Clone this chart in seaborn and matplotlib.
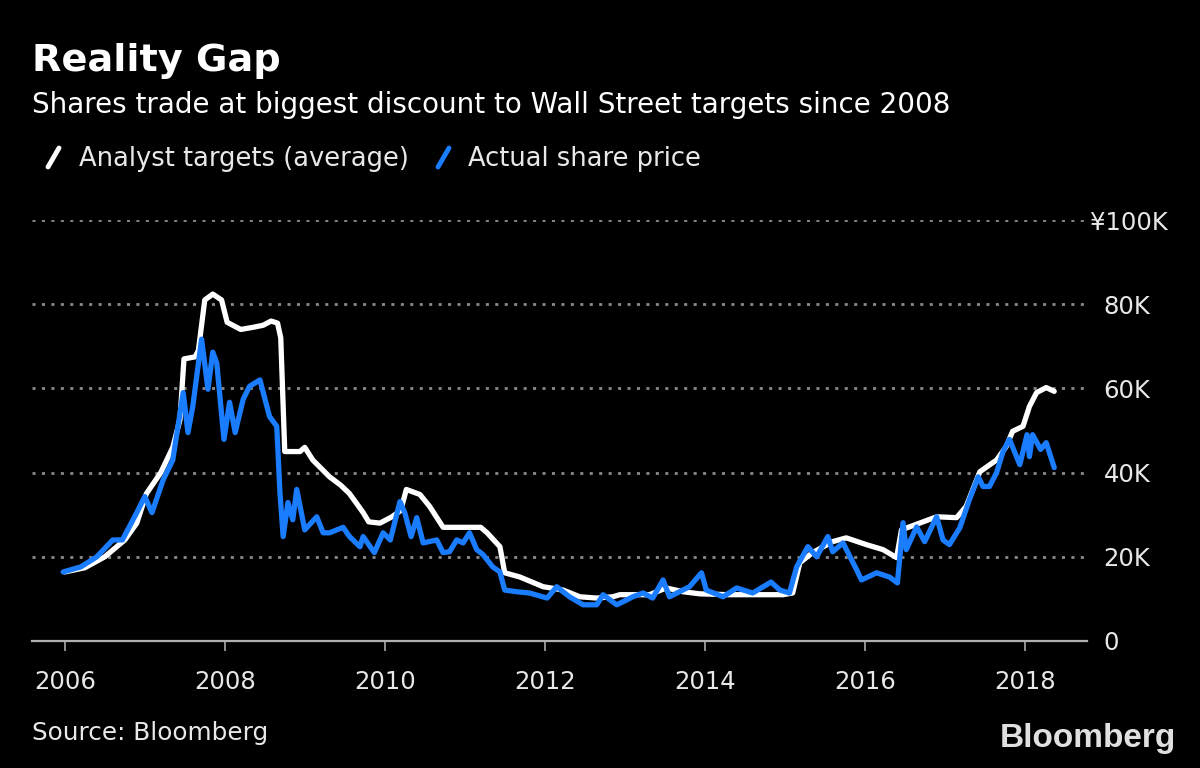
import numpy as np
import pandas as pd
import matplotlib
matplotlib.use("Agg")
import matplotlib.pyplot as plt
import seaborn as sns
from matplotlib.lines import Line2D
from matplotlib.transforms import ScaledTranslation

# analyst price targets (average), thousand yen
analyst_t = [2006.0, 2006.25, 2006.5, 2006.75, 2006.9, 2007.02, 2007.2, 2007.35, 2007.44, 2007.49,
             2007.63, 2007.67, 2007.75, 2007.85, 2007.96, 2008.03, 2008.2, 2008.35, 2008.48, 2008.58,
             2008.66, 2008.70, 2008.75, 2008.94, 2009.0, 2009.1, 2009.31, 2009.45, 2009.56, 2009.73,
             2009.8, 2009.94, 2010.09, 2010.2, 2010.27, 2010.44, 2010.56, 2010.73, 2011.0, 2011.2,
             2011.28, 2011.44, 2011.5, 2011.69, 2011.98, 2012.23, 2012.44, 2012.65, 2012.85, 2012.94,
             2013.31, 2013.52, 2013.73, 2013.94, 2014.3, 2014.7, 2014.98, 2015.1, 2015.19, 2015.35,
             2015.6, 2015.77, 2016.02, 2016.23, 2016.4, 2016.46, 2016.73, 2016.9, 2017.15, 2017.27,
             2017.44, 2017.65, 2017.77, 2017.85, 2017.98, 2018.06, 2018.15, 2018.27, 2018.37]
analyst_v = [16.4, 17.4, 20, 24, 28, 35, 40, 46, 52.6, 67,
             67.5, 69, 81, 82.4, 81, 75.7, 74, 74.5, 75, 76,
             75.5, 72, 45, 45, 46, 43, 39, 37, 35, 30.5,
             28.3, 28, 29.5, 31, 36, 34.8, 32, 27, 27, 27,
             25.7, 22.4, 16.2, 15.2, 12.9, 12.1, 10.5, 10.2, 10.5, 11,
             11, 12.6, 11.7, 11.2, 11, 11, 11, 11.4, 18.6, 21,
             23.6, 24.5, 22.9, 21.7, 19.8, 26.4, 28.3, 29.5, 29.3, 32,
             40.2, 43, 46.2, 49.8, 51, 55.7, 59, 60.2, 59.3]

# actual share price, thousand yen
price_t = [2005.98, 2006.2, 2006.4, 2006.6, 2006.72, 2006.9, 2007.0, 2007.09, 2007.23, 2007.35,
           2007.48, 2007.54, 2007.6, 2007.71, 2007.79, 2007.85, 2007.9, 2007.99, 2008.06, 2008.13,
           2008.23, 2008.31, 2008.44, 2008.56, 2008.65, 2008.69, 2008.73, 2008.79, 2008.85, 2008.9,
           2009.0, 2009.15, 2009.23, 2009.31, 2009.48, 2009.56, 2009.69, 2009.73, 2009.87, 2009.98,
           2010.07, 2010.19, 2010.25, 2010.33, 2010.4, 2010.48, 2010.65, 2010.73, 2010.81, 2010.9,
           2010.98, 2011.06, 2011.15, 2011.23, 2011.35, 2011.44, 2011.5, 2011.65, 2011.81, 2012.03,
           2012.15, 2012.31, 2012.48, 2012.65, 2012.73, 2012.9, 2013.03, 2013.1, 2013.23, 2013.35,
           2013.48, 2013.56, 2013.81, 2013.96, 2014.02, 2014.23, 2014.4, 2014.6, 2014.83, 2014.94,
           2015.06, 2015.15, 2015.29, 2015.4, 2015.54, 2015.6, 2015.73, 2015.9, 2015.96, 2016.15,
           2016.31, 2016.41, 2016.48, 2016.52, 2016.65, 2016.75, 2016.9, 2016.98, 2017.06, 2017.19,
           2017.31, 2017.42, 2017.48, 2017.56, 2017.65, 2017.73, 2017.81, 2017.94, 2018.03, 2018.06,
           2018.1, 2018.2, 2018.27, 2018.37]
price_v = [16.4, 17.6, 20, 24, 24, 30.5, 34.3, 30.5, 38.3, 43,
           59, 49.5, 55.7, 71.7, 59.8, 68.6, 66, 47.9, 56.7, 49.5,
           57.4, 60.5, 62, 53.3, 51, 35.2, 24.8, 32.9, 28.8, 36,
           26.4, 29.5, 25.7, 25.7, 27, 24.8, 22.4, 24.8, 21, 25.7,
           24, 33.1, 30.5, 24.8, 29.3, 23.3, 24, 21, 21.2, 24,
           23.3, 25.7, 21.7, 20.5, 17.6, 16.4, 12.1, 11.7, 11.4, 10.2,
           12.9, 10.5, 8.6, 8.6, 11, 8.6, 9.8, 10.5, 11.4, 10.2,
           14.5, 10.5, 12.9, 16.2, 12.1, 10.5, 12.6, 11.4, 14, 12.1,
           11.4, 17.6, 22.4, 20, 24.8, 21.2, 23.3, 16.9, 14.5, 16.2,
           15.2, 13.8, 28.1, 21.7, 27.1, 23.6, 29.5, 24, 22.9, 26.9,
           33.6, 39, 36.7, 36.7, 40, 45, 47.9, 41.9, 49, 43.8,
           49, 45.5, 47.1, 41.2]

year_ticks = [2006, 2008, 2010, 2012, 2014, 2016, 2018]
value_ticks = [0, 20, 40, 60, 80, 100]
value_labels = ["0", "20K", "40K", "60K", "80K", "¥100K"]

series_names = ["Analyst targets (average)", "Actual share price"]
series_colors = ["#ffffff", "#1a7cff"]

df = pd.concat([
    pd.DataFrame({"year": analyst_t, "value": analyst_v, "series": series_names[0]}),
    pd.DataFrame({"year": price_t, "value": price_v, "series": series_names[1]}),
])

sns.set_theme(style="dark")
plt.rcParams["font.family"] = ["DejaVu Sans"]

fig = plt.figure(figsize=(12, 7.68), dpi=100, facecolor="black")
ax = fig.add_axes([32 / 1200, 1 - 641 / 768, (1087 - 32) / 1200, (641 - 220) / 768])
ax.set_facecolor("black")

for name, col in zip(series_names, series_colors):
    sns.lineplot(data=df[df.series == name], x="year", y="value", color=col,
                 linewidth=3.8, ax=ax, estimator=None, sort=False)

ax.set_xlim(2005.59, 2018.78)
ax.set_ylim(0, 100)
ax.set_xlabel("")
ax.set_ylabel("")
ax.set_xticks(year_ticks)
ax.set_xticklabels([str(y) for y in year_ticks])
ax.set_yticks(value_ticks)
ax.set_yticklabels(value_labels)
ax.yaxis.tick_right()
ax.tick_params(axis="y", length=0, pad=12, labelsize=17.5, labelcolor="#e8e8e8")
ax.tick_params(axis="x", length=7, width=1.2, color="#aaaaaa", direction="out",
               pad=14, labelsize=17.5, labelcolor="#e8e8e8", bottom=True)
ylabels = ax.get_yticklabels()
for t in ylabels:
    t.set_horizontalalignment("left")
# the currency sign hangs to the left of the label column
ylabels[-1].set_transform(ylabels[-1].get_transform() + ScaledTranslation(-14 / 100, 0, fig.dpi_scale_trans))

ax.grid(False)
for v in value_ticks[1:]:
    ax.axhline(v, color="#8a8a8a", linewidth=2, linestyle=(0, (1.1, 2.3)), zorder=0)
for s in ["top", "left", "right"]:
    ax.spines[s].set_visible(False)
ax.spines["bottom"].set_color("#b0b0b0")
ax.spines["bottom"].set_linewidth(1.6)

fig.text(32 / 1200, 1 - 71 / 768, "Reality Gap", color="white", fontsize=27.5,
         fontweight="bold", va="baseline")
fig.text(32 / 1200, 1 - 113 / 768, "Shares trade at biggest discount to Wall Street targets since 2008",
         color="white", fontsize=20, va="baseline")

# legend with slash markers
fig.add_artist(Line2D([48 / 1200, 59 / 1200], [1 - 167 / 768, 1 - 148 / 768],
                      color=series_colors[0], linewidth=3.5, transform=fig.transFigure))
fig.text(79 / 1200, 1 - 166 / 768, series_names[0], color="#e8e8e8", fontsize=18.5, va="baseline")
fig.add_artist(Line2D([438 / 1200, 449 / 1200], [1 - 167 / 768, 1 - 148 / 768],
                      color=series_colors[1], linewidth=3.5, transform=fig.transFigure))
fig.text(468 / 1200, 1 - 166 / 768, series_names[1], color="#e8e8e8", fontsize=18.5, va="baseline")

fig.text(32 / 1200, 1 - 740 / 768, "Source: Bloomberg", color="#e8e8e8", fontsize=17.8, va="baseline")
fig.text(1176 / 1200, 1 - 747 / 768, "Bloomberg", color="#e0e0e0", fontsize=24,
         fontweight="bold", ha="right", va="baseline", family=["Liberation Sans", "DejaVu Sans"])

fig.savefig("out.png", dpi=100, facecolor="black")
